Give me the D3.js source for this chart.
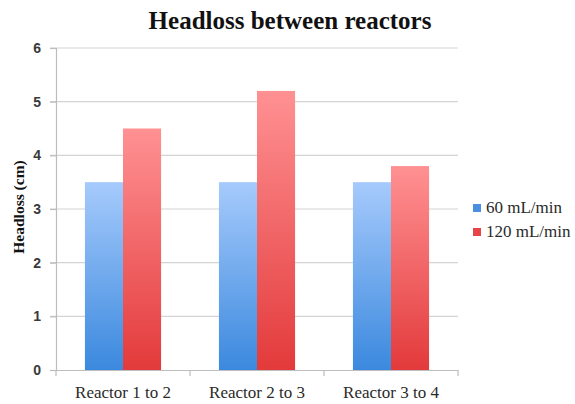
<!DOCTYPE html>
<html>
<head>
    <title>Headloss between reactors</title>
    <script src="https://d3js.org/d3.v7.min.js"></script>
    <style>
        body { margin: 0; background: #fff; }
        svg { display: block; }
    </style>
</head>
<body>
    <div id="chart"></div>
    <script>
        // Data
        const categories = ["Reactor 1 to 2", "Reactor 2 to 3", "Reactor 3 to 4"];
        const seriesNames = ["60 mL/min", "120 mL/min"];
        const flow60 = [3.5, 3.5, 3.5];
        const flow120 = [4.5, 5.2, 3.8];
        const yTicks = [0, 1, 2, 3, 4, 5, 6];

        const width = 575, height = 404;
        const margin = { top: 48, right: 117, bottom: 34, left: 56 };
        const innerW = width - margin.left - margin.right;
        const innerH = height - margin.top - margin.bottom;

        const svg = d3.select("#chart").append("svg")
            .attr("width", width)
            .attr("height", height);

        // gradients
        const defs = svg.append("defs");
        const grads = [
            { id: "gBlue", top: "#a6cafc", bottom: "#3b89de" },
            { id: "gRed", top: "#ff9193", bottom: "#e33a3b" }
        ];
        grads.forEach(g => {
            const lg = defs.append("linearGradient")
                .attr("id", g.id)
                .attr("x1", 0).attr("y1", 0).attr("x2", 0).attr("y2", 1);
            lg.append("stop").attr("offset", "0%").attr("stop-color", g.top);
            lg.append("stop").attr("offset", "100%").attr("stop-color", g.bottom);
        });
        const solid = ["#4a90e2", "#e8454a"];

        const g = svg.append("g").attr("transform", `translate(${margin.left},${margin.top})`);

        const x0 = d3.scaleBand().domain(categories).range([0, innerW]).paddingInner(0).paddingOuter(0);
        const x1 = d3.scaleBand().domain(seriesNames).range([0, x0.bandwidth()])
            .paddingInner(0).paddingOuter(0.76);
        const y = d3.scaleLinear().domain([0, 6]).range([innerH, 0]);

        // gridlines
        g.append("g")
            .selectAll("line")
            .data(yTicks.filter(d => d > 0))
            .join("line")
            .attr("x1", -6)
            .attr("x2", innerW)
            .attr("y1", d => y(d))
            .attr("y2", d => y(d))
            .attr("stroke", "#d4d4d4")
            .attr("stroke-width", 1.2);

        // y axis
        const yAxis = g.append("g")
            .call(d3.axisLeft(y).tickValues(yTicks).tickFormat(d3.format("d")).tickSize(6).tickPadding(9));
        yAxis.select(".domain").attr("stroke", "#bdbdbd").attr("stroke-width", 1.2);
        yAxis.selectAll(".tick line").attr("stroke", "#bdbdbd").attr("stroke-width", 1.2);
        yAxis.selectAll(".tick text")
            .attr("fill", "#3a3a3a")
            .style("font-family", "'Liberation Sans', Arial, sans-serif")
            .style("font-weight", "bold")
            .style("font-size", "14px");

        // bars
        const series = [flow60, flow120];
        const grp = g.append("g")
            .selectAll("g")
            .data(categories)
            .join("g")
            .attr("transform", d => `translate(${x0(d)},0)`);

        grp.selectAll("rect")
            .data((d, i) => seriesNames.map((s, j) => ({ s, j, v: series[j][i] })))
            .join("rect")
            .attr("x", d => x1(d.s))
            .attr("width", x1.bandwidth())
            .attr("y", d => y(d.v))
            .attr("height", d => innerH - y(d.v))
            .attr("fill", d => `url(#${grads[d.j].id})`);

        // x axis
        const xAxis = g.append("g")
            .attr("transform", `translate(0,${innerH})`)
            .call(d3.axisBottom(x0).tickSize(0).tickPadding(16));
        xAxis.select(".domain").attr("stroke", "#bdbdbd").attr("stroke-width", 1.2);
        xAxis.selectAll(".tick text")
            .attr("fill", "#2a2a2a")
            .style("font-family", "'Liberation Serif', 'Times New Roman', serif")
            .style("font-size", "17px");
        // category separator ticks
        g.append("g")
            .selectAll("line")
            .data(d3.range(categories.length + 1))
            .join("line")
            .attr("x1", i => i * x0.bandwidth())
            .attr("x2", i => i * x0.bandwidth())
            .attr("y1", innerH)
            .attr("y2", innerH + 6)
            .attr("stroke", "#bdbdbd")
            .attr("stroke-width", 1.2);

        // title
        svg.append("text")
            .attr("x", 290)
            .attr("y", 29)
            .attr("text-anchor", "middle")
            .style("font-family", "'Liberation Serif', 'Times New Roman', serif")
            .style("font-weight", "bold")
            .style("font-size", "25px")
            .attr("fill", "#111")
            .text("Headloss between reactors");

        // y label
        svg.append("text")
            .attr("transform", `translate(24,${margin.top + innerH * 0.5 - 2}) rotate(-90)`)
            .attr("text-anchor", "middle")
            .style("font-family", "'Liberation Serif', 'Times New Roman', serif")
            .style("font-weight", "bold")
            .style("font-size", "15.5px")
            .attr("fill", "#111")
            .text("Headloss (cm)");

        // legend
        const legend = svg.append("g").attr("transform", "translate(473,204)");
        seriesNames.forEach((s, i) => {
            const row = legend.append("g").attr("transform", `translate(0,${i * 24})`);
            row.append("rect")
                .attr("width", 8).attr("height", 8)
                .attr("fill", solid[i]);
            row.append("text")
                .attr("x", 13)
                .attr("y", 9)
                .style("font-family", "'Liberation Serif', 'Times New Roman', serif")
                .style("font-size", "17px")
                .attr("fill", "#2a2a2a")
                .text(s);
        });
    </script>
</body>
</html>
